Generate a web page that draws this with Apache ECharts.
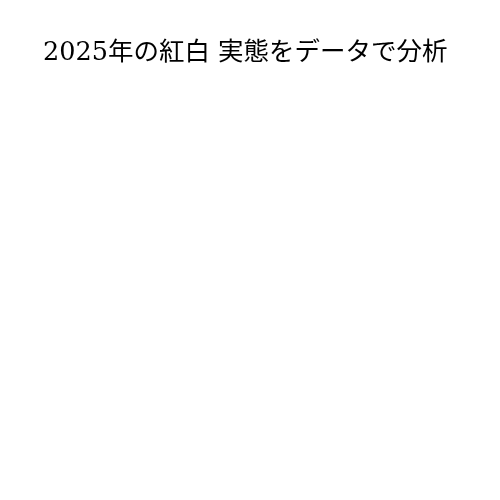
<!DOCTYPE html>
<html>
<head>
<meta charset="utf-8">
<script src="https://cdn.jsdelivr.net/npm/echarts@6/dist/echarts.min.js"></script>
<style>
  html, body { margin: 0; padding: 0; background: #fff; }
  #chart { width: 500px; height: 500px; }
</style>
</head>
<body>
<div id="chart"></div>
<script>
// タイトル
const titleText = '2025年の紅白 実態をデータで分析';
// データ（図には何も描かれていない）
const categories = [];
const values = [];

let myChart = echarts.init(document.getElementById('chart'));
let option = {
    backgroundColor: '#fff',
    title: {
        text: titleText,
        left: 38,
        top: 36,
        textStyle: {
            fontFamily: '"DejaVu Serif", "Noto Sans CJK JP", serif',
            fontWeight: 'normal',
            fontSize: 25.5,
            color: '#000'
        }
    },
    xAxis: { show: false, type: 'category', data: categories },
    yAxis: { show: false, type: 'value' },
    series: [{ type: 'bar', data: values }]
};
myChart.setOption(option);
</script>
</body>
</html>
